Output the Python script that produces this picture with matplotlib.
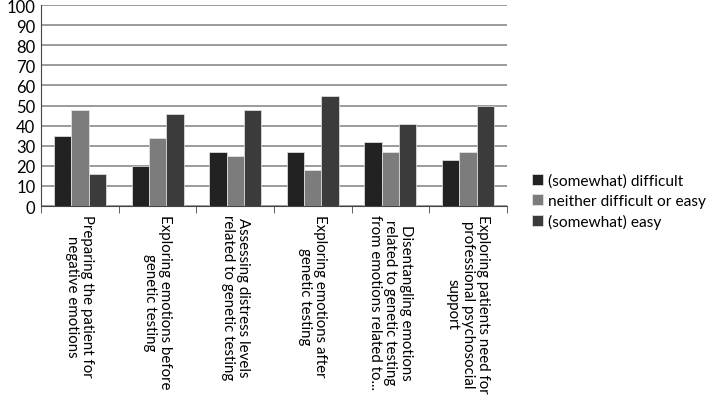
import numpy as np
import matplotlib.pyplot as plt

plt.rcParams['font.family'] = ['Lato', 'DejaVu Sans']

categories = [
    "Preparing the patient for\nnegative emotions",
    "Exploring emotions before\ngenetic testing",
    "Assessing distress levels\nrelated to genetic testing",
    "Exploring emotions after\ngenetic testing",
    "Disentangling emotions\nrelated to genetic testing\nfrom emotions related to...",
    "Exploring patients need for\nprofessional psychosocial\nsupport",
]
difficult = [35, 20, 27, 27, 32, 23]
neither = [48, 34, 25, 18, 27, 27]
easy = [16, 46, 48, 55, 41, 50]
series_names = ["(somewhat) difficult", "neither difficult or easy", "(somewhat) easy"]
colors = ["#222222", "#7c7c7c", "#3b3b3b"]

fig = plt.figure(figsize=(7.08, 4.06), dpi=100)
ax = fig.add_axes([0.058, 0.49, 0.658, 0.495])

x = np.arange(len(categories))
w = 0.223
for i, (vals, name, c) in enumerate(zip([difficult, neither, easy], series_names, colors)):
    ax.bar(x + (i - 1) * w, vals, w, color=c, label=name, zorder=3,
           edgecolor='#e8e8e8', linewidth=0.5)

ax.set_xlim(-0.5, len(categories) - 0.5)
ax.set_ylim(0, 100)
ax.set_yticks(range(0, 101, 10))
ax.yaxis.grid(True, color='#808080', linewidth=1.1, zorder=0)
ax.tick_params(axis='y', length=0, labelsize=12, pad=4)

ax.set_xticks(x)
ax.set_xticklabels(categories, rotation=270, fontsize=10.8, ha='center', va='top',
                   multialignment='center', linespacing=1.1)
ax.set_xticks(np.arange(-0.5, len(categories)), minor=True)
ax.tick_params(axis='x', which='major', length=0, pad=6)
ax.tick_params(axis='x', which='minor', length=5, color='#444444')

for s in ['top', 'right']:
    ax.spines[s].set_visible(False)
ax.spines['left'].set_color('#444444')
ax.spines['bottom'].set_color('#444444')

ax.legend(loc='center left', bbox_to_anchor=(0.752, 0.502), bbox_transform=fig.transFigure,
          frameon=False, fontsize=11.2, handlelength=0.65, handleheight=0.65,
          handletextpad=0.35, labelspacing=0.38, borderpad=0, borderaxespad=0)

fig.savefig('out.png', dpi=100)
